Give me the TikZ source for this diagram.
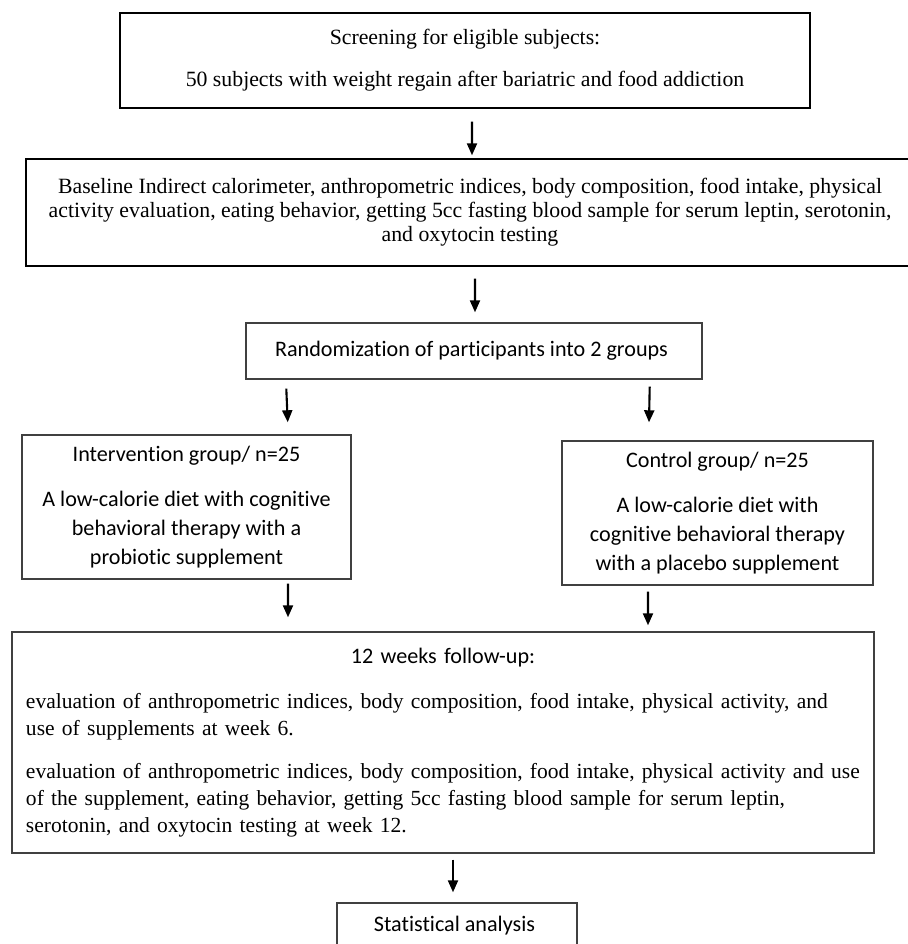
\documentclass[tikz,border=0pt]{standalone}
\usepackage{fontspec}
\setmainfont{Liberation Serif}
\newfontfamily\bodysans[Ligatures={NoCommon}]{Carlito}
\usetikzlibrary{arrows.meta, positioning, calc}
\definecolor{flowBlack}{RGB}{0, 0, 0}
\definecolor{flowGray}{RGB}{64, 64, 64}
\tikzset{
  serifbox/.style={
    rectangle, draw=flowBlack, line width=0.8pt,
    fill=white, align=center,
    font=\fontsize{12.4}{13.7}\selectfont, inner sep=0pt
  },
  sansbox/.style={
    rectangle, draw=flowGray, line width=0.8pt,
    fill=white, align=center,
    font=\bodysans\fontsize{12.6}{16.4}\selectfont, inner sep=0pt
  },
  flowarrow/.style={-{Triangle[length=0.24cm, width=0.2cm]}, line width=1.2pt, color=flowBlack}
}

\begin{document}
\begin{tikzpicture}

\useasboundingbox (0,0) rectangle (18.16,-18.88);

\def\midX{9.3}
\def\leftX{3.73}
\def\rightX{14.35}

%% TOP OF THE FLOW
\node[serifbox, minimum width=13.8cm, minimum height=1.9cm] (screening) at (\midX, -1.21) {
  Screening for eligible subjects:\\[0.36cm]
  50 subjects with weight regain after bariatric and food addiction
};
\node[serifbox, minimum width=17.76cm, minimum height=2.14cm] (baseline) at (9.4, -4.25) {
  Baseline Indirect calorimeter, anthropometric indices, body composition, food intake, physical\\
  activity evaluation, eating behavior, getting 5cc fasting blood sample for serum leptin, serotonin,\\
  and oxytocin testing
};
\node[sansbox, minimum width=9.12cm, minimum height=1.12cm] (randomization) at (9.48, -7.02) {
  Randomization of participants into 2 groups
};

%% THE TWO GROUPS
\node[sansbox, minimum width=6.58cm, minimum height=2.88cm] (intervention) at (\leftX, -10.14) {
  Intervention group/ n=25\\[0.32cm]
  A low-calorie diet with cognitive\\
  behavioral therapy with a\\
  probiotic supplement
};
\node[sansbox, minimum width=6.22cm, minimum height=2.88cm] (control) at (\rightX, -10.26) {
  Control group/ n=25\\[0.34cm]
  A low-calorie diet with\\
  cognitive behavioral therapy\\
  with a placebo supplement
};

%% FOLLOW-UP AND ANALYSIS
\node[serifbox, draw=flowGray, minimum width=17.24cm, minimum height=4.42cm,
      text width=16.68cm, align=left] (followup) at (8.86, -14.85) {
  {\bodysans\fontsize{12.6}{16.4}\selectfont\centering 12 weeks follow-up:\par}
  \vspace{0.36cm}\raggedright\fontsize{12.25}{15.4}\selectfont
  evaluation of anthropometric indices, body composition, food intake, physical activity, and\\
  use of supplements at week 6.\par
  \vspace{0.32cm}
  \mbox{evaluation of anthropometric indices, body composition, food intake, physical activity and use}\\
  of the supplement, eating behavior, getting 5cc fasting blood sample for serum leptin,\\
  serotonin, and oxytocin testing at week 12.\par
};
\node[sansbox, minimum width=4.8cm, minimum height=0.9cm] (analysis) at (9.14, -18.51) {
  Statistical analysis
};

%% ARROWS
\draw[flowarrow] ([xshift=0.14cm, yshift=-0.26cm]screening.south) -- ([xshift=0.04cm, yshift=0.06cm]baseline.north);
\draw[flowarrow] ([xshift=0.1cm, yshift=-0.24cm]baseline.south) -- ([xshift=0.02cm, yshift=0.2cm]randomization.north);

% randomization -> groups
\draw[flowarrow] ([xshift=0.82cm, yshift=-0.18cm]randomization.south west) -- ([xshift=-1.28cm, yshift=0.24cm]intervention.north east);
\draw[flowarrow] ([xshift=-1.06cm, yshift=-0.14cm]randomization.south east) -- ([xshift=-1.37cm, yshift=0.36cm]control.north);

% groups -> follow-up
\draw[flowarrow] ([xshift=2.03cm, yshift=-0.08cm]intervention.south) -- ([xshift=-3.1cm, yshift=0.28cm]followup.north);
\draw[flowarrow] ([xshift=-1.39cm, yshift=-0.12cm]control.south) -- ([xshift=4.1cm, yshift=0.12cm]followup.north);

% follow-up -> analysis
\draw[flowarrow] ([xshift=0.2cm, yshift=-0.12cm]followup.south) -- ([xshift=-0.08cm, yshift=0.2cm]analysis.north);

\end{tikzpicture}
\end{document}
